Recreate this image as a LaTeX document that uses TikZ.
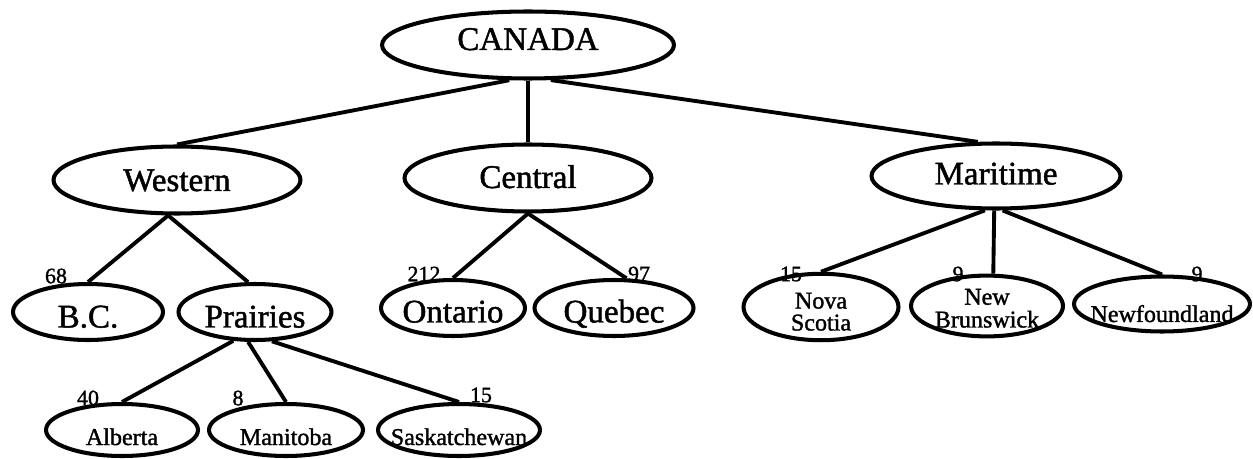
\documentclass[tikz,border=0pt]{standalone}
\usepackage{fontspec}
\setmainfont{Liberation Serif}[FakeBold=1.4]
\usetikzlibrary{shapes.geometric}

\begin{document}
\begin{tikzpicture}[x=0.02cm, y=-0.02cm]
        \tikzset{region/.style={draw, ellipse, line width=2.3pt, inner xsep=-1cm, inner ysep=0pt},
            lift/.style={text height=#1, text depth=0pt},
            big/.style={font=\fontsize{18.8}{20}\selectfont},
            small/.style={font=\fontsize{13.7}{12.5}\selectfont, align=center},
            count/.style={inner sep=0pt, font=\fontsize{12.5}{13}\selectfont},
            branch/.style={line width=2.2pt}}
        \useasboundingbox (0,0) rectangle (1253,459);
        % country and regions
        \node[region, big, lift=0.2cm, minimum width=5.84cm, minimum height=1.34cm] (canada) at (528,45) {CANADA};
        \node[region, big, lift=0.44cm, minimum width=4.94cm, minimum height=1.34cm] (western) at (177,180) {Western};
        \node[region, big, lift=0.4cm, minimum width=4.94cm, minimum height=1.34cm] (central) at (528,178) {Central};
        \node[region, big, lift=0.34cm, minimum width=4.98cm, minimum height=1.3cm] (maritime) at (996,176) {Maritime};
        % provinces
        \node[region, big, lift=0.62cm, minimum width=3.0cm, minimum height=1.12cm] (bc) at (88,312) {B.C.};
        \node[region, big, lift=0.62cm, minimum width=3.06cm, minimum height=1.12cm] (prairies) at (255,312) {Prairies};
        \node[region, big, lift=0.58cm, minimum width=2.88cm, minimum height=1.12cm] (ontario) at (453,308) {Ontario};
        \node[region, big, lift=0.58cm, minimum width=3.18cm, minimum height=1.12cm] (quebec) at (614,308) {Quebec};
        \node[region, small, lift=0.94cm, minimum width=3.1cm, minimum height=1.06cm] (nova) at (821,307) {Nova\\Scotia};
        \node[region, small, lift=0.86cm, font=\fontsize{13.7}{13}\selectfont, minimum width=3.04cm, minimum height=1.04cm] (newbr) at (987,306) {New\\Brunswick};
        \node[region, small, lift=0.72cm, minimum width=3.52cm, minimum height=1.1cm] (newf) at (1162,304) {Newfoundland};
        % Prairie provinces
        \node[region, small, lift=0.6cm, minimum width=3.04cm, minimum height=1.04cm] (alberta) at (122,430) {Alberta};
        \node[region, small, lift=0.6cm, minimum width=3.08cm, minimum height=1.04cm] (manitoba) at (286,430) {Manitoba};
        \node[region, small, lift=0.6cm, minimum width=3.24cm, minimum height=1.04cm] (sask) at (459,430) {Saskatchewan};
        % branches
        \draw[branch] (canada.242) -- (western.north);
        \draw[branch] (canada.south) -- (central.north);
        \draw[branch] (canada.303) -- (maritime.118);
        \draw[branch] (western.256) -- (bc.north);
        \draw[branch] (western.256) -- (prairies.103);
        \draw[branch] (central.south) -- (ontario.north);
        \draw[branch] (central.south) -- (quebec.67);
        \draw[branch] (maritime.252) -- (nova.north);
        \draw[branch] (maritime.267) -- (newbr.79);
        \draw[branch] (maritime.281) -- (newf.north);
        \draw[branch] (prairies.233) -- (alberta.north);
        \draw[branch] (prairies.257) -- (manitoba.north);
        \draw[branch] (prairies.300) -- (sask.north);
        % seat counts
        \node[count] (nbc) at (56,276) {68};
        \node[count] (nontario) at (424,274) {212};
        \node[count] (nquebec) at (639,274) {97};
        \node[count] (nnova) at (791,274) {15};
        \node[count] (nnewbr) at (958,274) {9};
        \node[count] (nnewf) at (1197,274) {9};
        \node[count] (nalberta) at (88,398) {40};
        \node[count] (nmanitoba) at (238,398) {8};
        \node[count] (nsask) at (481,395) {15};
\end{tikzpicture}
\end{document}
